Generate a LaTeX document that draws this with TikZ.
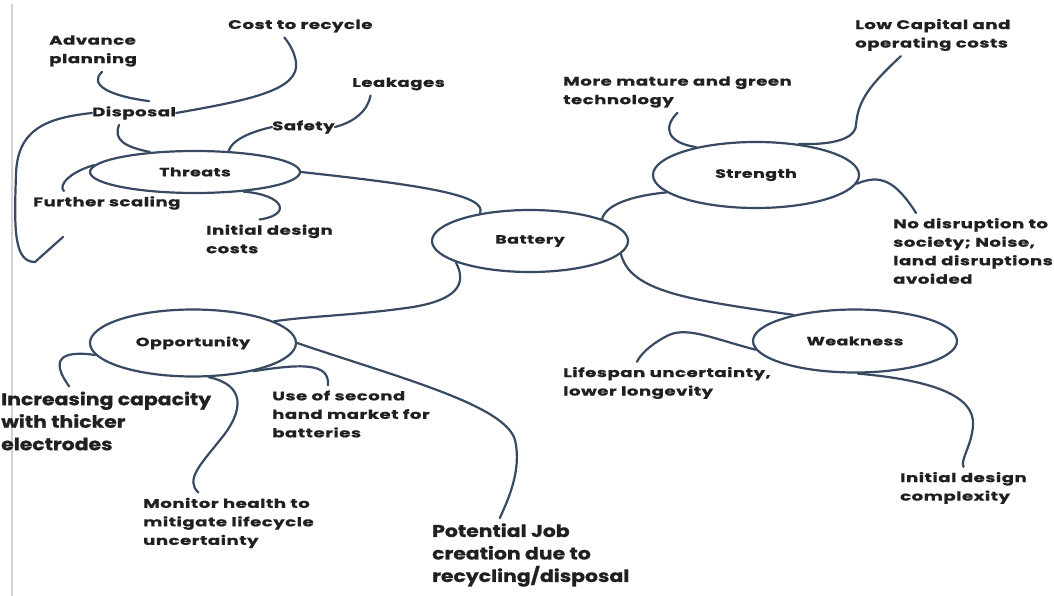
\documentclass[tikz,border=0pt]{standalone}
\usepackage{fontspec}
\setmainfont{Poppins}
\newfontfamily\smallface{Poppins}[FakeStretch=1.45,LetterSpace=4,FakeBold=0.8]
\newfontfamily\bigface{Poppins}[FakeStretch=1.2,FakeBold=0.8]
\usetikzlibrary{shapes}
\definecolor{branch}{RGB}{55,74,98}
\definecolor{ink}{RGB}{32,32,32}
\tikzset{ell/.style={ellipse,draw=branch,line width=2.2pt,inner sep=0pt,font=\fontsize{12}{14}\smallface\bfseries,text=ink}}
\tikzset{txt/.style={anchor=west,align=left,inner xsep=0pt,inner ysep=5pt,font=\fontsize{12.5}{18.5}\smallface\bfseries,text=ink}}
\tikzset{bigtxt/.style={txt,font=\fontsize{17}{22.5}\bigface\bfseries}}
\tikzset{br/.style={draw=branch,line width=2.2pt,line cap=round}}

\begin{document}
\begin{tikzpicture}[x=1pt,y=-1pt]
    \useasboundingbox (0,0) rectangle (1054,596);
    \draw [gray!35,line width=1.5pt] (12,4) -- (12,596);

    \node[ell,minimum width=196pt,minimum height=62pt] (battery) at (530,241) {Battery};
    \node[ell,minimum width=210pt,minimum height=42pt] (threat) at (195,172) {Threats};
    \node[ell,minimum width=206pt,minimum height=66pt] (strength) at (756,175) {Strength};
    \node[ell,minimum width=206pt,minimum height=67pt] (opport) at (193,343) {Opportunity};
    \node[ell,minimum width=204pt,minimum height=63pt] (weak) at (855,341) {Weakness};

    \node[txt] (cost) at (228,26) {Cost to recycle};
    \node[txt] (adv) at (49,51) {Advance\\planning};
    \node[txt] (disp) at (92,113) {Disposal};
    \node[txt] (leak) at (352,84) {Leakages};
    \node[txt] (safe) at (272,127) {Safety};
    \node[txt] (scal) at (33,203) {Further scaling};
    \node[txt] (idc) at (206,239) {Initial design\\costs};
    \node[txt] (mat) at (563,92) {More mature and green\\technology};
    \node[txt] (cap) at (855,35) {Low Capital and\\operating costs};
    \node[txt] (nod) at (893,251) {No disruption to\\society; Noise,\\land disruptions\\avoided};
    \node[bigtxt] (inc) at (1,421) {Increasing capacity\\with thicker\\electrodes};
    \node[txt] (use) at (272,414) {Use of second\\hand market for\\batteries};
    \node[txt] (mon) at (143,523) {Monitor health to\\mitigate lifecycle\\uncertainty};
    \node[bigtxt] (job) at (432,555) {Potential Job\\creation due to\\recycling/disposal};
    \node[txt] (life) at (563,383) {Lifespan uncertainty,\\lower longevity};
    \node[txt] (idx) at (900,488) {Initial design\\complexity};
    \coordinate (hook) at (63,237);

    % main branches
    \draw [br] (threat.east) .. controls (420,185) and (488,195) .. (battery.151);
    \draw [br] (battery.17) .. controls (606,205) and (630,196) .. (strength.191);
    \draw [br] (battery.196) .. controls (468,285) and (455,300) .. (413,307) .. controls (360,315) and (310,316) .. (opport.15);
    \draw [br] (battery.352) .. controls (630,292) and (690,300) .. (weak.157);

    % threats
    \draw [br] ([xshift=-15pt]disp.south) .. controls (113,140) and (125,147) .. (threat.156);
    \draw [br] ([xshift=9pt]adv.south) .. controls (88,85) and (110,96) .. ([xshift=15pt]disp.north);
    \draw [br] (disp.east) .. controls (250,100) and (300,90) .. (296,62) .. controls (294,50) and (288,42) .. ([xshift=-16pt]cost.south);
    \draw [br] (disp.west) .. controls (45,118) and (17,130) .. (16,175) .. controls (14,230) and (14,262) .. (35,262) -- (hook);
    \draw [br] (threat.32) .. controls (232,140) and (250,132) .. (safe.west);
    \draw [br] (safe.east) .. controls (355,122) and (368,110) .. ([xshift=-28pt]leak.south);
    \draw [br] (threat.176) .. controls (70,172) and (58,185) .. ([xshift=-43pt]scal.north);
    \draw [br] (threat.338) .. controls (285,195) and (292,215) .. ([xshift=-10pt]idc.north);

    % strength
    \draw [br] (mat.south) .. controls (662,128) and (668,143) .. (strength.155);
    \draw [br] ([xshift=-32pt]cap.south) .. controls (870,85) and (858,100) .. (856,125) .. controls (855,140) and (830,145) .. (strength.36);
    \draw [br] (strength.355) .. controls (880,174) and (895,180) .. ([xshift=-57pt]nod.north);

    % opportunity
    \draw [br] (opport.187) .. controls (60,350) and (50,360) .. ([xshift=-37pt]inc.north);
    \draw [br] (opport.295) .. controls (245,385) and (245,410) .. (220,440) .. controls (200,465) and (185,480) .. ([xshift=-30pt]mon.north);
    \draw [br] (opport.335) .. controls (300,364) and (330,362) .. ([xshift=-23pt]use.north);
    \draw [br] (opport.east) .. controls (400,378) and (505,405) .. (515,440) .. controls (522,470) and (508,500) .. ([xshift=-31pt]job.north);

    % weakness
    \draw [br] (weak.185) .. controls (710,338) and (685,325) .. (665,337) .. controls (650,345) and (640,355) .. ([xshift=-30pt]life.north);
    \draw [br] (weak.275) .. controls (930,380) and (975,395) .. (973,425) .. controls (972,445) and (960,460) .. (idx.north);
\end{tikzpicture}
\end{document}
